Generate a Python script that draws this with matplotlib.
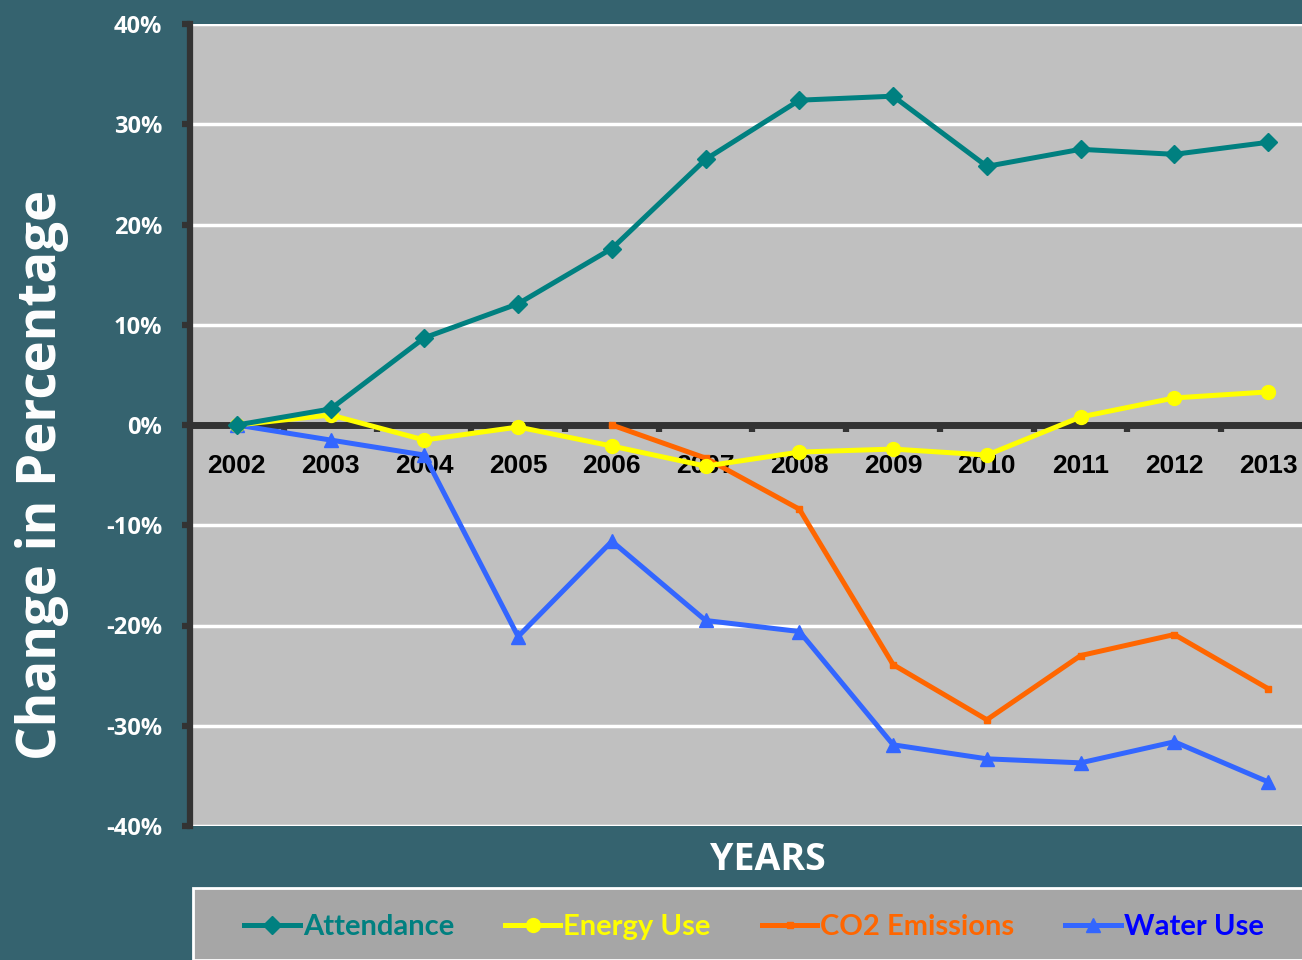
import matplotlib.pyplot as plt
from matplotlib.patches import Rectangle
from matplotlib.ticker import FixedLocator

years = ["2002", "2003", "2004", "2005", "2006", "2007",
         "2008", "2009", "2010", "2011", "2012", "2013"]
attendance = [0.0, 1.6, 8.7, 12.1, 17.6, 26.5, 32.4, 32.8, 25.8, 27.5, 27.0, 28.2]
energy = [0.0, 1.0, -1.5, -0.2, -2.1, -4.1, -2.7, -2.4, -3.0, 0.8, 2.7, 3.3]
co2_years = ["2006", "2007", "2008", "2009", "2010", "2011", "2012", "2013"]
co2 = [0.0, -3.3, -8.4, -23.9, -29.4, -23.0, -20.9, -26.3]
water = [0.0, -1.5, -3.0, -21.1, -11.6, -19.5, -20.6, -31.9, -33.3, -33.7, -31.6, -35.6]
yticks = [-40, -30, -20, -10, 0, 10, 20, 30, 40]

bg = "#35636f"
dark = "#333333"

fig = plt.figure(figsize=(13.02, 9.6), dpi=100, facecolor=bg)
ax = fig.add_axes([190 / 1302, 1 - 826 / 960, 1125 / 1302, 802 / 960])
ax.set_facecolor("#c0c0c0")

x = list(range(len(years)))
xc = [years.index(y) for y in co2_years]

ax.plot(x, attendance, color="#008080", lw=3.6, marker="D", ms=9, label="Attendance", zorder=5)
ax.plot(x, energy, color="#ffff00", lw=3.6, marker="o", ms=10, label="Energy Use", zorder=4)
ax.plot(xc, co2, color="#ff6600", lw=3.6, marker="s", ms=5, label="CO2 Emissions", zorder=3)
ax.plot(x, water, color="#3366ff", lw=3.6, marker="^", ms=10, label="Water Use", zorder=3)

ax.set_xlim(-0.5, len(years) - 0.5)
ax.set_ylim(-40, 40)
ax.set_yticks(yticks)
ax.set_yticklabels([f"{v}%" for v in yticks], color="white", fontsize=17,
                   fontweight="bold", family=["Open Sans", "DejaVu Sans"])
ax.grid(axis="y", color="white", lw=2.5)
ax.set_axisbelow(True)

for s in ["top", "right"]:
    ax.spines[s].set_visible(False)
ax.spines["left"].set_color(dark)
ax.spines["left"].set_linewidth(4.5)
ax.spines["bottom"].set_position(("data", 0))
ax.spines["bottom"].set_color(dark)
ax.spines["bottom"].set_linewidth(5)
ax.spines["bottom"].set_zorder(2)

ax.set_xticks(x)
ax.set_xticklabels(years, fontsize=19, fontweight="bold", color="black",
                   family=["Liberation Sans", "DejaVu Sans"])
ax.xaxis.set_minor_locator(FixedLocator([i + 0.5 for i in x[:-1]]))
ax.tick_params(axis="x", which="major", length=0, pad=21)
ax.tick_params(axis="x", which="minor", length=5, width=4.5, color=dark, direction="out")
ax.tick_params(axis="y", length=6, width=4.5, color=dark, pad=14)

fig.text(42 / 1302, 1 - 475 / 960, "Change in Percentage", rotation=90, color="white",
         fontsize=38, fontweight="bold", ha="center", va="center",
         family=["Open Sans", "DejaVu Sans"])
fig.text(768 / 1302, 1 - 860 / 960, "YEARS", color="white", fontsize=27,
         fontweight="bold", ha="center", va="center", family=["Open Sans", "DejaVu Sans"])

fig.patches.append(Rectangle((193 / 1302, 0), 1.0, 1 - 888 / 960, transform=fig.transFigure,
                             facecolor="#a6a6a6", edgecolor="white", lw=2))
leg = fig.legend(loc="center", bbox_to_anchor=(754 / 1302, 1 - 927 / 960), ncol=4,
                 frameon=False, handlelength=1.9, handletextpad=0.1, columnspacing=1.75,
                 prop={"family": ["Lato", "DejaVu Sans"], "weight": "bold", "size": 21},
                 labelcolor=["#008080", "#ffff00", "#ff6600", "#0000ff"])

fig.savefig("out.png", dpi=100, facecolor=bg)
